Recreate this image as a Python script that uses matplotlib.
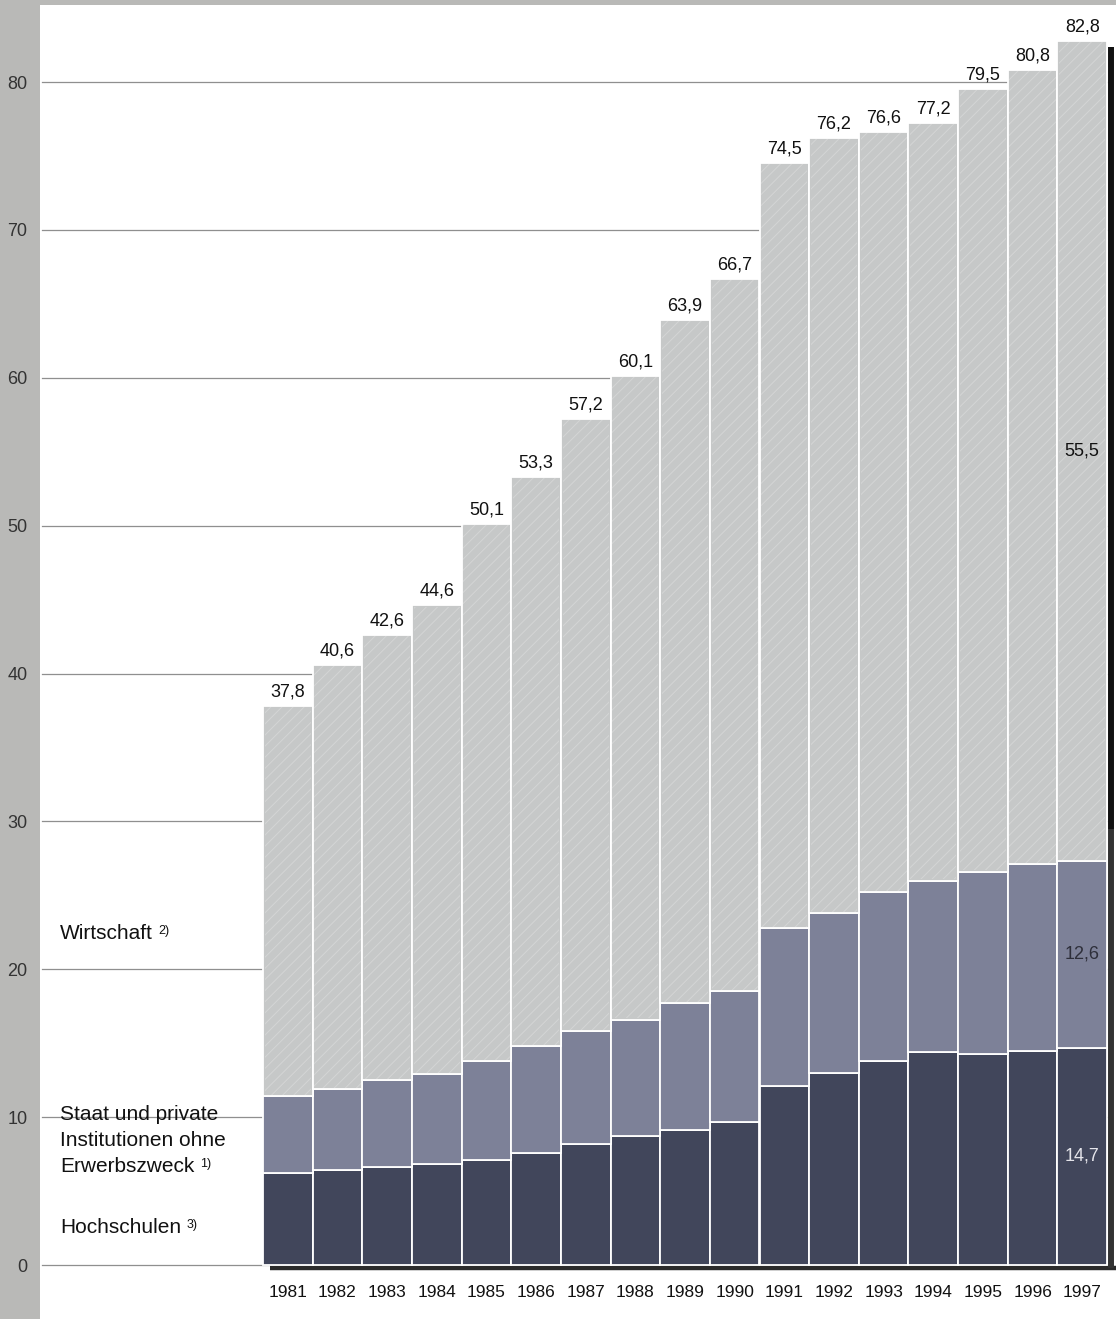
import numpy as np
import matplotlib
matplotlib.use("Agg")
import matplotlib.pyplot as plt
from matplotlib.patches import Rectangle

plt.rcParams['font.family'] = ['Liberation Sans', 'DejaVu Sans']
plt.rcParams['hatch.linewidth'] = 0.7

# Ausgaben fuer Forschung und Entwicklung, Mrd. DM
years = [str(y) for y in range(1981, 1998)]
totals = [37.8, 40.6, 42.6, 44.6, 50.1, 53.3, 57.2, 60.1, 63.9, 66.7,
          74.5, 76.2, 76.6, 77.2, 79.5, 80.8, 82.8]
hochschulen = [6.2, 6.4, 6.6, 6.8, 7.1, 7.6, 8.2, 8.7, 9.1, 9.7,
               12.1, 13.0, 13.8, 14.4, 14.3, 14.5, 14.7]
staat = [5.2, 5.5, 5.9, 6.1, 6.7, 7.2, 7.6, 7.9, 8.6, 8.8,
         10.7, 10.8, 11.4, 11.6, 12.3, 12.6, 12.6]
yticks = [0, 10, 20, 30, 40, 50, 60, 70, 80]

hoch = np.array(hochschulen)
sta = np.array(staat)
wirt = np.array(totals) - hoch - sta

c_dark = '#41465b'
c_mid = '#7d8198'
c_light = '#c6c8c8'
c_strip = '#b9b9b7'

W, H = 1116, 1319
fig = plt.figure(figsize=(W / 100, H / 100), dpi=100)
fig.patch.set_facecolor('white')

# grauer Rand links und oben
fig.patches.append(Rectangle((0, 0), 40 / W, 1, transform=fig.transFigure,
                             facecolor=c_strip, edgecolor='none', zorder=-1))
fig.patches.append(Rectangle((0, 1 - 5 / H), 1, 5 / H, transform=fig.transFigure,
                             facecolor=c_strip, edgecolor='none', zorder=-1))

ax = fig.add_axes([40 / W, 0, 1 - 40 / W, 1 - 5 / H])
ax.set_facecolor('white')
px_per_unit = (1265 - 82) / 80.0
ax.set_ylim(-(H - 1265) / px_per_unit, (1265 - 5) / px_per_unit)
pitch = 49.65
x0, x1 = (40 - 263) / pitch - 0.5, (W - 263) / pitch - 0.5
ax.set_xlim(x0, x1)

x = np.arange(len(years))
kw = dict(width=1.0, edgecolor='white', linewidth=1.3, zorder=3)
ax.bar(x, hoch, color=c_dark, **kw)
ax.bar(x, sta, bottom=hoch, color=c_mid, **kw)
ax.bar(x, wirt, bottom=hoch + sta, color=c_light, **kw)
# leichte Rasterstruktur im oberen Segment
ax.bar(x, wirt - 0.15, bottom=hoch + sta + 0.08, width=0.93, color='none',
       edgecolor='#d4d5d5', linewidth=0, hatch='///', zorder=3.5)

# Gitterlinien bis zum Balken rechts
xr = x[-1] + 0.58
for t in yticks:
    ax.axhline(t, xmin=2 / (W - 40), xmax=(xr - x0) / (x1 - x0),
               color='#8f8f8f', lw=0.9, zorder=1)

# Grundlinie und Balken rechts
ax.plot([-0.35, x[-1] + 0.68], [-0.22, -0.22], color='#2b2b2b', lw=3.2,
        solid_capstyle='butt', zorder=2)
ax.plot([xr, xr], [totals[-1] - 0.4, 29.5], color='#111111', lw=4.3,
        solid_capstyle='butt', zorder=4)
ax.plot([xr, xr], [29.5, -0.2], color='#333333', lw=4.3,
        solid_capstyle='butt', zorder=4)

for s in ax.spines.values():
    s.set_visible(False)
ax.set_yticks(yticks)
ax.set_yticklabels([str(t) for t in yticks])
ax.tick_params(axis='y', length=0, pad=9, labelsize=13, labelcolor='#333333')
ax.set_xticks([])

# Jahreszahlen
for i, yr in enumerate(years):
    ax.text(i, -1.85, yr, ha='center', va='center', fontsize=12.5, color='#111111')

# Summen ueber den Balken
for i, t in enumerate(totals):
    ax.annotate(f"{t:.1f}".replace('.', ','), (i, t), xytext=(0, 4),
                textcoords='offset points', ha='center', va='bottom',
                fontsize=13, color='#111111', zorder=5)

# Werte im letzten Balken
i = len(years) - 1
ax.text(i, hoch[i] + sta[i] + wirt[i] / 2, f"{wirt[i]:.1f}".replace('.', ','),
        ha='center', va='center', fontsize=13, color='#111111', zorder=5)
ax.text(i, hoch[i] + sta[i] / 2, f"{sta[i]:.1f}".replace('.', ','),
        ha='center', va='center', fontsize=13, color='#2e2f3a', zorder=5)
ax.text(i, hoch[i] / 2, f"{hoch[i]:.1f}".replace('.', ','),
        ha='center', va='center', fontsize=13, color='#e4e4ea', zorder=5)

# Beschriftung der Bereiche
xl = (60 - 263) / pitch - 0.5
lab = dict(fontsize=15, color='#111111', ha='left', va='baseline', zorder=5)


def fussnote(txt, note):
    ax.annotate(note, xy=(1, 1), xycoords=txt, xytext=(4, -1),
                textcoords='offset points', ha='left', va='top',
                fontsize=9, color='#111111')


t = ax.text(xl, (1265 - 939) / px_per_unit, "Wirtschaft", **lab)
fussnote(t, "2)")
ax.text(xl, (1265 - 1120) / px_per_unit, "Staat und private", **lab)
ax.text(xl, (1265 - 1146) / px_per_unit, "Institutionen ohne", **lab)
t = ax.text(xl, (1265 - 1172) / px_per_unit, "Erwerbszweck", **lab)
fussnote(t, "1)")
t = ax.text(xl, (1265 - 1233) / px_per_unit, "Hochschulen", **lab)
fussnote(t, "3)")

fig.savefig("out.png", dpi=100)
